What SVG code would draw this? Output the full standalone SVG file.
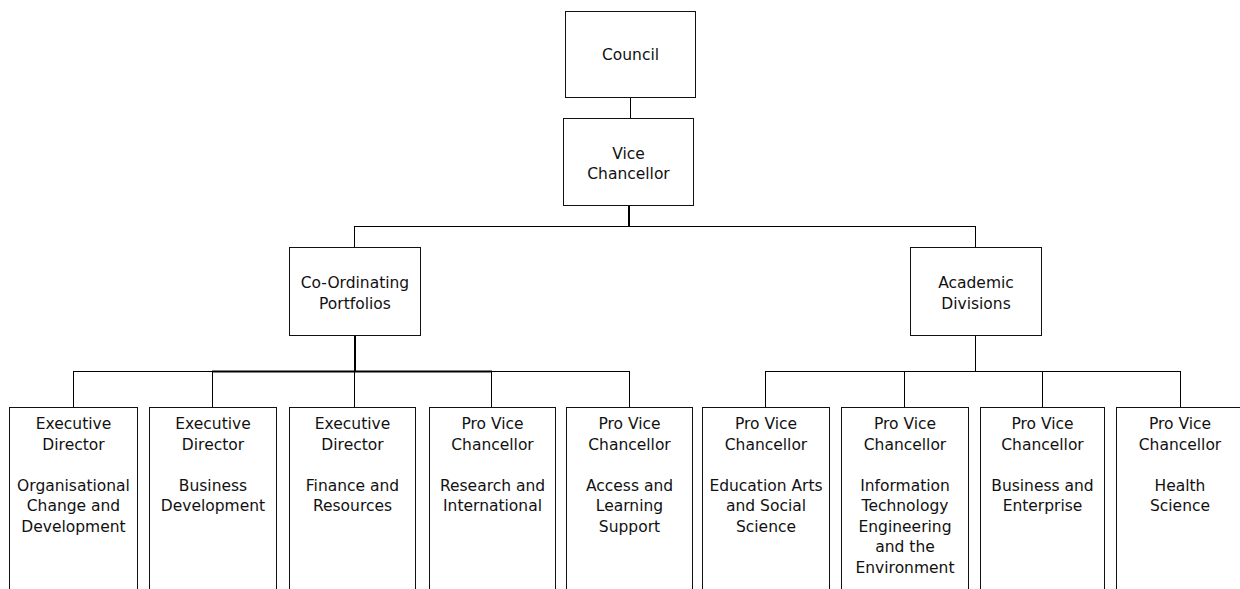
<svg xmlns="http://www.w3.org/2000/svg" width="1240" height="589" viewBox="0 0 1240 589">
<style>
.box{fill:#fff;stroke:#111;stroke-width:1}
.ln{fill:none;stroke:#000;stroke-width:1}
.tk{fill:none;stroke:#000;stroke-width:2}
text{font-family:"DejaVu Sans",Verdana,sans-serif;font-size:15.5px;fill:#111;text-anchor:middle}
</style>
<rect width="1240" height="589" fill="#fff"/>
<g id="connectors">
<path class="ln" d="M630.5 98V118"/>
<path class="tk" d="M629 206V226"/>
<path class="ln" d="M354.5 226.5H975.5M354.5 226V248M975.5 226V248"/>
<path class="tk" d="M355 335V371"/>
<path class="tk" d="M212 371.5H492"/>
<path class="ln" d="M73 371.5H212M492 371.5H629.5M73.5 371V407M212.5 371V407M354.5 371V407M491.5 371V407M629.5 371V407"/>
<path class="ln" d="M975.5 335V371M765.5 371.5H1180.5M765.5 371V407M904.5 371V407M1042.5 371V407M1180.5 371V407"/>
</g>
<g id="council"><rect class="box" x="565.5" y="11.5" width="130" height="86"/><text x="630.5" y="60">Council</text></g>
<g id="vice-chancellor"><rect class="box" x="563.5" y="118.5" width="130" height="87"/><text x="628.5" y="159">Vice<tspan x="628.5" dy="20">Chancellor</tspan></text></g>
<g id="coordinating"><rect class="box" x="289.5" y="247.5" width="131" height="88"/><text x="355" y="288">Co-Ordinating<tspan x="355" dy="21">Portfolios</tspan></text></g>
<g id="academic"><rect class="box" x="910.5" y="247.5" width="131" height="88"/><text x="976" y="288">Academic<tspan x="976" dy="21">Divisions</tspan></text></g>
<g id="ed-ocd"><rect class="box" x="9.5" y="407.5" width="128" height="200"/><text x="73.5" y="429">Executive<tspan x="73.5" dy="20.5">Director</tspan><tspan x="73.5" dy="41">Organisational</tspan><tspan x="73.5" dy="20.5">Change and</tspan><tspan x="73.5" dy="20.5">Development</tspan></text></g>
<g id="ed-bd"><rect class="box" x="149.5" y="407.5" width="127" height="200"/><text x="213" y="429">Executive<tspan x="213" dy="20.5">Director</tspan><tspan x="213" dy="41">Business</tspan><tspan x="213" dy="20.5">Development</tspan></text></g>
<g id="ed-fr"><rect class="box" x="289.5" y="407.5" width="126" height="200"/><text x="352.5" y="429">Executive<tspan x="352.5" dy="20.5">Director</tspan><tspan x="352.5" dy="41">Finance and</tspan><tspan x="352.5" dy="20.5">Resources</tspan></text></g>
<g id="pvc-ri"><rect class="box" x="429.5" y="407.5" width="126" height="200"/><text x="492.5" y="429">Pro Vice<tspan x="492.5" dy="20.5">Chancellor</tspan><tspan x="492.5" dy="41">Research and</tspan><tspan x="492.5" dy="20.5">International</tspan></text></g>
<g id="pvc-als"><rect class="box" x="566.5" y="407.5" width="126" height="200"/><text x="629.5" y="429">Pro Vice<tspan x="629.5" dy="20.5">Chancellor</tspan><tspan x="629.5" dy="41">Access and</tspan><tspan x="629.5" dy="20.5">Learning</tspan><tspan x="629.5" dy="20.5">Support</tspan></text></g>
<g id="pvc-eass"><rect class="box" x="702.5" y="407.5" width="127" height="200"/><text x="766" y="429">Pro Vice<tspan x="766" dy="20.5">Chancellor</tspan><tspan x="766" dy="41">Education Arts</tspan><tspan x="766" dy="20.5">and Social</tspan><tspan x="766" dy="20.5">Science</tspan></text></g>
<g id="pvc-itee"><rect class="box" x="841.5" y="407.5" width="127" height="200"/><text x="905" y="429">Pro Vice<tspan x="905" dy="20.5">Chancellor</tspan><tspan x="905" dy="41">Information</tspan><tspan x="905" dy="20.5">Technology</tspan><tspan x="905" dy="20.5">Engineering</tspan><tspan x="905" dy="20.5">and the</tspan><tspan x="905" dy="20.5">Environment</tspan></text></g>
<g id="pvc-be"><rect class="box" x="980.5" y="407.5" width="124" height="200"/><text x="1042.5" y="429">Pro Vice<tspan x="1042.5" dy="20.5">Chancellor</tspan><tspan x="1042.5" dy="41">Business and</tspan><tspan x="1042.5" dy="20.5">Enterprise</tspan></text></g>
<g id="pvc-hs"><rect class="box" x="1116.5" y="407.5" width="127" height="200"/><text x="1180" y="429">Pro Vice<tspan x="1180" dy="20.5">Chancellor</tspan><tspan x="1180" dy="41">Health</tspan><tspan x="1180" dy="20.5">Science</tspan></text></g>
</svg>
